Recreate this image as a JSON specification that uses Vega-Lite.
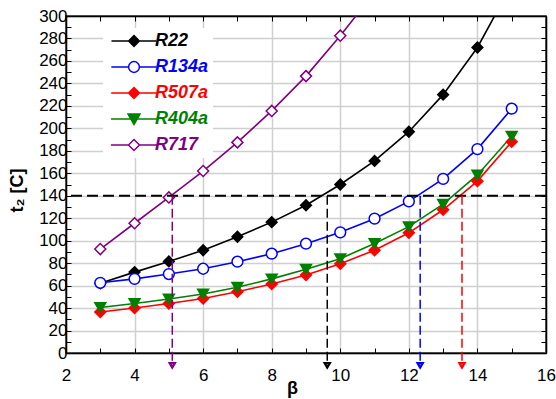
{
  "$schema": "https://vega.github.io/schema/vega-lite/v6.json",
  "width": 480,
  "height": 337,
  "autosize": "none",
  "padding": {"left": 66, "top": 16, "right": 10, "bottom": 46},
  "background": "white",
  "config": {
    "font": "Liberation Sans",
    "view": {"stroke": "black", "strokeWidth": 1.5},
    "axis": {
      "domainColor": "black",
      "domainWidth": 1.5,
      "tickColor": "black",
      "tickWidth": 1,
      "labelColor": "black",
      "labelFont": "Liberation Sans",
      "labelFontSize": 17,
      "titleColor": "black",
      "titleFont": "Liberation Sans",
      "titleFontSize": 18,
      "titleFontWeight": "bold"
    }
  },
  "datasets": {
    "curves": [
      {"series": "R22", "beta": 3, "t2": 62},
      {"series": "R22", "beta": 4, "t2": 72},
      {"series": "R22", "beta": 5, "t2": 81.5},
      {"series": "R22", "beta": 6, "t2": 91.5},
      {"series": "R22", "beta": 7, "t2": 103.5},
      {"series": "R22", "beta": 8, "t2": 116.5},
      {"series": "R22", "beta": 9, "t2": 131.5},
      {"series": "R22", "beta": 10, "t2": 150},
      {"series": "R22", "beta": 11, "t2": 171},
      {"series": "R22", "beta": 12, "t2": 197},
      {"series": "R22", "beta": 13, "t2": 230},
      {"series": "R22", "beta": 14, "t2": 272},
      {"series": "R22", "beta": 15, "t2": 328},
      {"series": "R134a", "beta": 3, "t2": 62.5},
      {"series": "R134a", "beta": 4, "t2": 66},
      {"series": "R134a", "beta": 5, "t2": 70.3},
      {"series": "R134a", "beta": 6, "t2": 75},
      {"series": "R134a", "beta": 7, "t2": 81.3},
      {"series": "R134a", "beta": 8, "t2": 88.4},
      {"series": "R134a", "beta": 9, "t2": 97.3},
      {"series": "R134a", "beta": 10, "t2": 107.4},
      {"series": "R134a", "beta": 11, "t2": 119.6},
      {"series": "R134a", "beta": 12, "t2": 135},
      {"series": "R134a", "beta": 13, "t2": 155},
      {"series": "R134a", "beta": 14, "t2": 181.5},
      {"series": "R134a", "beta": 15, "t2": 217.5},
      {"series": "R507a", "beta": 3, "t2": 36.5},
      {"series": "R507a", "beta": 4, "t2": 40},
      {"series": "R507a", "beta": 5, "t2": 44},
      {"series": "R507a", "beta": 6, "t2": 48.5},
      {"series": "R507a", "beta": 7, "t2": 54.5},
      {"series": "R507a", "beta": 8, "t2": 61.5},
      {"series": "R507a", "beta": 9, "t2": 69.5},
      {"series": "R507a", "beta": 10, "t2": 79.5},
      {"series": "R507a", "beta": 11, "t2": 91.5},
      {"series": "R507a", "beta": 12, "t2": 107},
      {"series": "R507a", "beta": 13, "t2": 127.5},
      {"series": "R507a", "beta": 14, "t2": 153},
      {"series": "R507a", "beta": 15, "t2": 188},
      {"series": "R404a", "beta": 3, "t2": 40.5},
      {"series": "R404a", "beta": 4, "t2": 44},
      {"series": "R404a", "beta": 5, "t2": 48},
      {"series": "R404a", "beta": 6, "t2": 52.5},
      {"series": "R404a", "beta": 7, "t2": 58.5},
      {"series": "R404a", "beta": 8, "t2": 66},
      {"series": "R404a", "beta": 9, "t2": 74.5},
      {"series": "R404a", "beta": 10, "t2": 84},
      {"series": "R404a", "beta": 11, "t2": 97.5},
      {"series": "R404a", "beta": 12, "t2": 112.5},
      {"series": "R404a", "beta": 13, "t2": 132.5},
      {"series": "R404a", "beta": 14, "t2": 158.5},
      {"series": "R404a", "beta": 15, "t2": 193},
      {"series": "R717", "beta": 3, "t2": 92.5},
      {"series": "R717", "beta": 4, "t2": 115.5},
      {"series": "R717", "beta": 5, "t2": 138.5},
      {"series": "R717", "beta": 6, "t2": 162},
      {"series": "R717", "beta": 7, "t2": 187.5},
      {"series": "R717", "beta": 8, "t2": 215.5},
      {"series": "R717", "beta": 9, "t2": 246.5},
      {"series": "R717", "beta": 10, "t2": 282.5},
      {"series": "R717", "beta": 11, "t2": 321}
    ],
    "limits": [
      {"series": "R717", "beta": 5.1},
      {"series": "R22", "beta": 9.62},
      {"series": "R134a", "beta": 12.33},
      {"series": "R507a", "beta": 13.55}
    ]
  },
  "resolve": {"axis": {"x": "independent", "y": "independent"}},
  "layer": [
    {
      "data": {"name": "curves"},
      "mark": {"type": "line", "strokeWidth": 1.6, "clip": true},
      "encoding": {
        "x": {
          "field": "beta", "type": "quantitative",
          "scale": {"domain": [2, 16], "nice": false, "zero": false},
          "axis": {
            "orient": "bottom",
            "values": [2, 3, 4, 5, 6, 7, 8, 9, 10, 11, 12, 13, 14, 15, 16],
            "labelExpr": "datum.value % 2 === 0 ? datum.label : ''",
            "grid": true,
            "gridColor": {"condition": {"test": "datum.value % 2 === 0", "value": "#cfcfcf"}, "value": "transparent"},
            "gridWidth": 1.5,
            "tickSize": -5,
            "labelPadding": 19,
            "labelFlush": false,
            "title": "β",
            "titleX": 226,
            "titleY": 40,
            "titleBaseline": "alphabetic",
            "titleAlign": "center"
          }
        },
        "y": {
          "field": "t2", "type": "quantitative",
          "scale": {"domain": [0, 300], "nice": false},
          "axis": {
            "orient": "left",
            "values": [0, 10, 20, 30, 40, 50, 60, 70, 80, 90, 100, 110, 120, 130, 140, 150, 160, 170, 180, 190, 200, 210, 220, 230, 240, 250, 260, 270, 280, 290, 300],
            "labelExpr": "datum.value % 20 === 0 ? datum.label : ''",
            "grid": true,
            "gridColor": {"condition": {"test": "datum.value % 20 === 0", "value": "#cfcfcf"}, "value": "transparent"},
            "gridWidth": 1.5,
            "tickSize": -5,
            "labelPadding": 4,
            "labelFlush": false,
            "title": "t₂ [C]",
            "titleAngle": -90,
            "titleX": -44,
            "titleY": 174,
            "titleBaseline": "alphabetic",
            "titleAlign": "center"
          }
        },
        "color": {
          "field": "series", "type": "nominal",
          "scale": {
            "domain": ["R22", "R134a", "R507a", "R404a", "R717"],
            "range": ["#000000", "#0000ff", "#ff0000", "#008000", "#800080"]
          },
          "legend": {
            "orient": "none",
            "legendX": 37,
            "legendY": 12,
            "title": null,
            "fillColor": "white",
            "padding": 4,
            "labelFont": "Liberation Sans",
            "labelFontSize": 18,
            "labelFontWeight": "bold",
            "labelFontStyle": "italic",
            "symbolSize": 81,
            "symbolStrokeWidth": 1.5,
            "symbolOffset": 18,
            "labelOffset": 12,
            "rowPadding": 8,
            "encode": {
              "symbols": {
                "update": {
                  "shape": {"signal": "datum.value === 'R134a' ? 'M-4.2,0H-1M1,0H4.2M1,0A1,1,0,1,1,-1,0A1,1,0,1,1,1,0Z' : datum.value === 'R404a' ? 'M-4.2,0H4.2M-1.1,-0.9L1.1,-0.9L0,1Z' : 'M-4.2,0H-1M1,0H4.2M0,-1L1,0L0,1L-1,0Z'"},
                  "fill": {"signal": "datum.value === 'R134a' || datum.value === 'R717' ? 'white' : scale('color', datum.value)"},
                  "stroke": {"signal": "scale('color', datum.value)"},
                  "strokeWidth": {"value": 1.5},
                  "opacity": {"value": 1}
                }
              },
              "labels": {
                "update": {"fill": {"scale": "color", "field": "value"}}
              }
            }
          }
        }
      }
    },
    {
      "data": {"name": "curves"},
      "mark": {"type": "point", "filled": true, "strokeWidth": 1.5, "opacity": 1, "clip": true},
      "encoding": {
        "x": {
          "field": "beta", "type": "quantitative",
          "axis": {
            "orient": "top",
            "values": [2, 3, 4, 5, 6, 7, 8, 9, 10, 11, 12, 13, 14, 15, 16],
            "labels": false,
            "grid": false,
            "tickSize": -5,
            "title": null
          }
        },
        "y": {
          "field": "t2", "type": "quantitative",
          "axis": {
            "orient": "right",
            "values": [0, 10, 20, 30, 40, 50, 60, 70, 80, 90, 100, 110, 120, 130, 140, 150, 160, 170, 180, 190, 200, 210, 220, 230, 240, 250, 260, 270, 280, 290, 300],
            "labels": false,
            "grid": false,
            "tickSize": -5,
            "title": null
          }
        },
        "shape": {
          "condition": [
            {"test": "datum.series === 'R134a'", "value": "circle"},
            {"test": "datum.series === 'R404a'", "value": "triangle-down"}
          ],
          "value": "diamond"
        },
        "fill": {
          "field": "series", "type": "nominal",
          "scale": {
            "domain": ["R22", "R134a", "R507a", "R404a", "R717"],
            "range": ["#000000", "#ffffff", "#ff0000", "#008000", "#ffffff"]
          },
          "legend": null
        },
        "stroke": {
          "field": "series", "type": "nominal",
          "scale": {
            "domain": ["R22", "R134a", "R507a", "R404a", "R717"],
            "range": ["#000000", "#0000ff", "#ff0000", "#008000", "#800080"]
          },
          "legend": null
        },
        "size": {
          "field": "series", "type": "nominal",
          "scale": {
            "domain": ["R22", "R134a", "R507a", "R404a", "R717"],
            "range": [115, 121, 95, 150, 110]
          },
          "legend": null
        }
      }
    },
    {
      "data": {"values": [{}]},
      "mark": {"type": "rule", "strokeDash": [11, 5], "strokeWidth": 2, "color": "black"},
      "encoding": {
        "y": {"datum": 140, "type": "quantitative", "axis": null}
      }
    },
    {
      "data": {"name": "limits"},
      "mark": {"type": "rule", "strokeDash": [9, 4], "strokeWidth": 1.5, "clip": false},
      "encoding": {
        "x": {"field": "beta", "type": "quantitative", "axis": null},
        "y": {"datum": 140, "type": "quantitative", "axis": null},
        "y2": {"datum": -11},
        "color": {"field": "series", "type": "nominal", "legend": null}
      }
    },
    {
      "data": {"name": "limits"},
      "mark": {"type": "point", "shape": "triangle-down", "filled": false, "size": 28, "strokeWidth": 2.2, "opacity": 1, "clip": false},
      "encoding": {
        "x": {"field": "beta", "type": "quantitative", "axis": null},
        "y": {"datum": -11, "type": "quantitative", "axis": null},
        "stroke": {"field": "series", "type": "nominal", "legend": null}
      }
    }
  ]
}
